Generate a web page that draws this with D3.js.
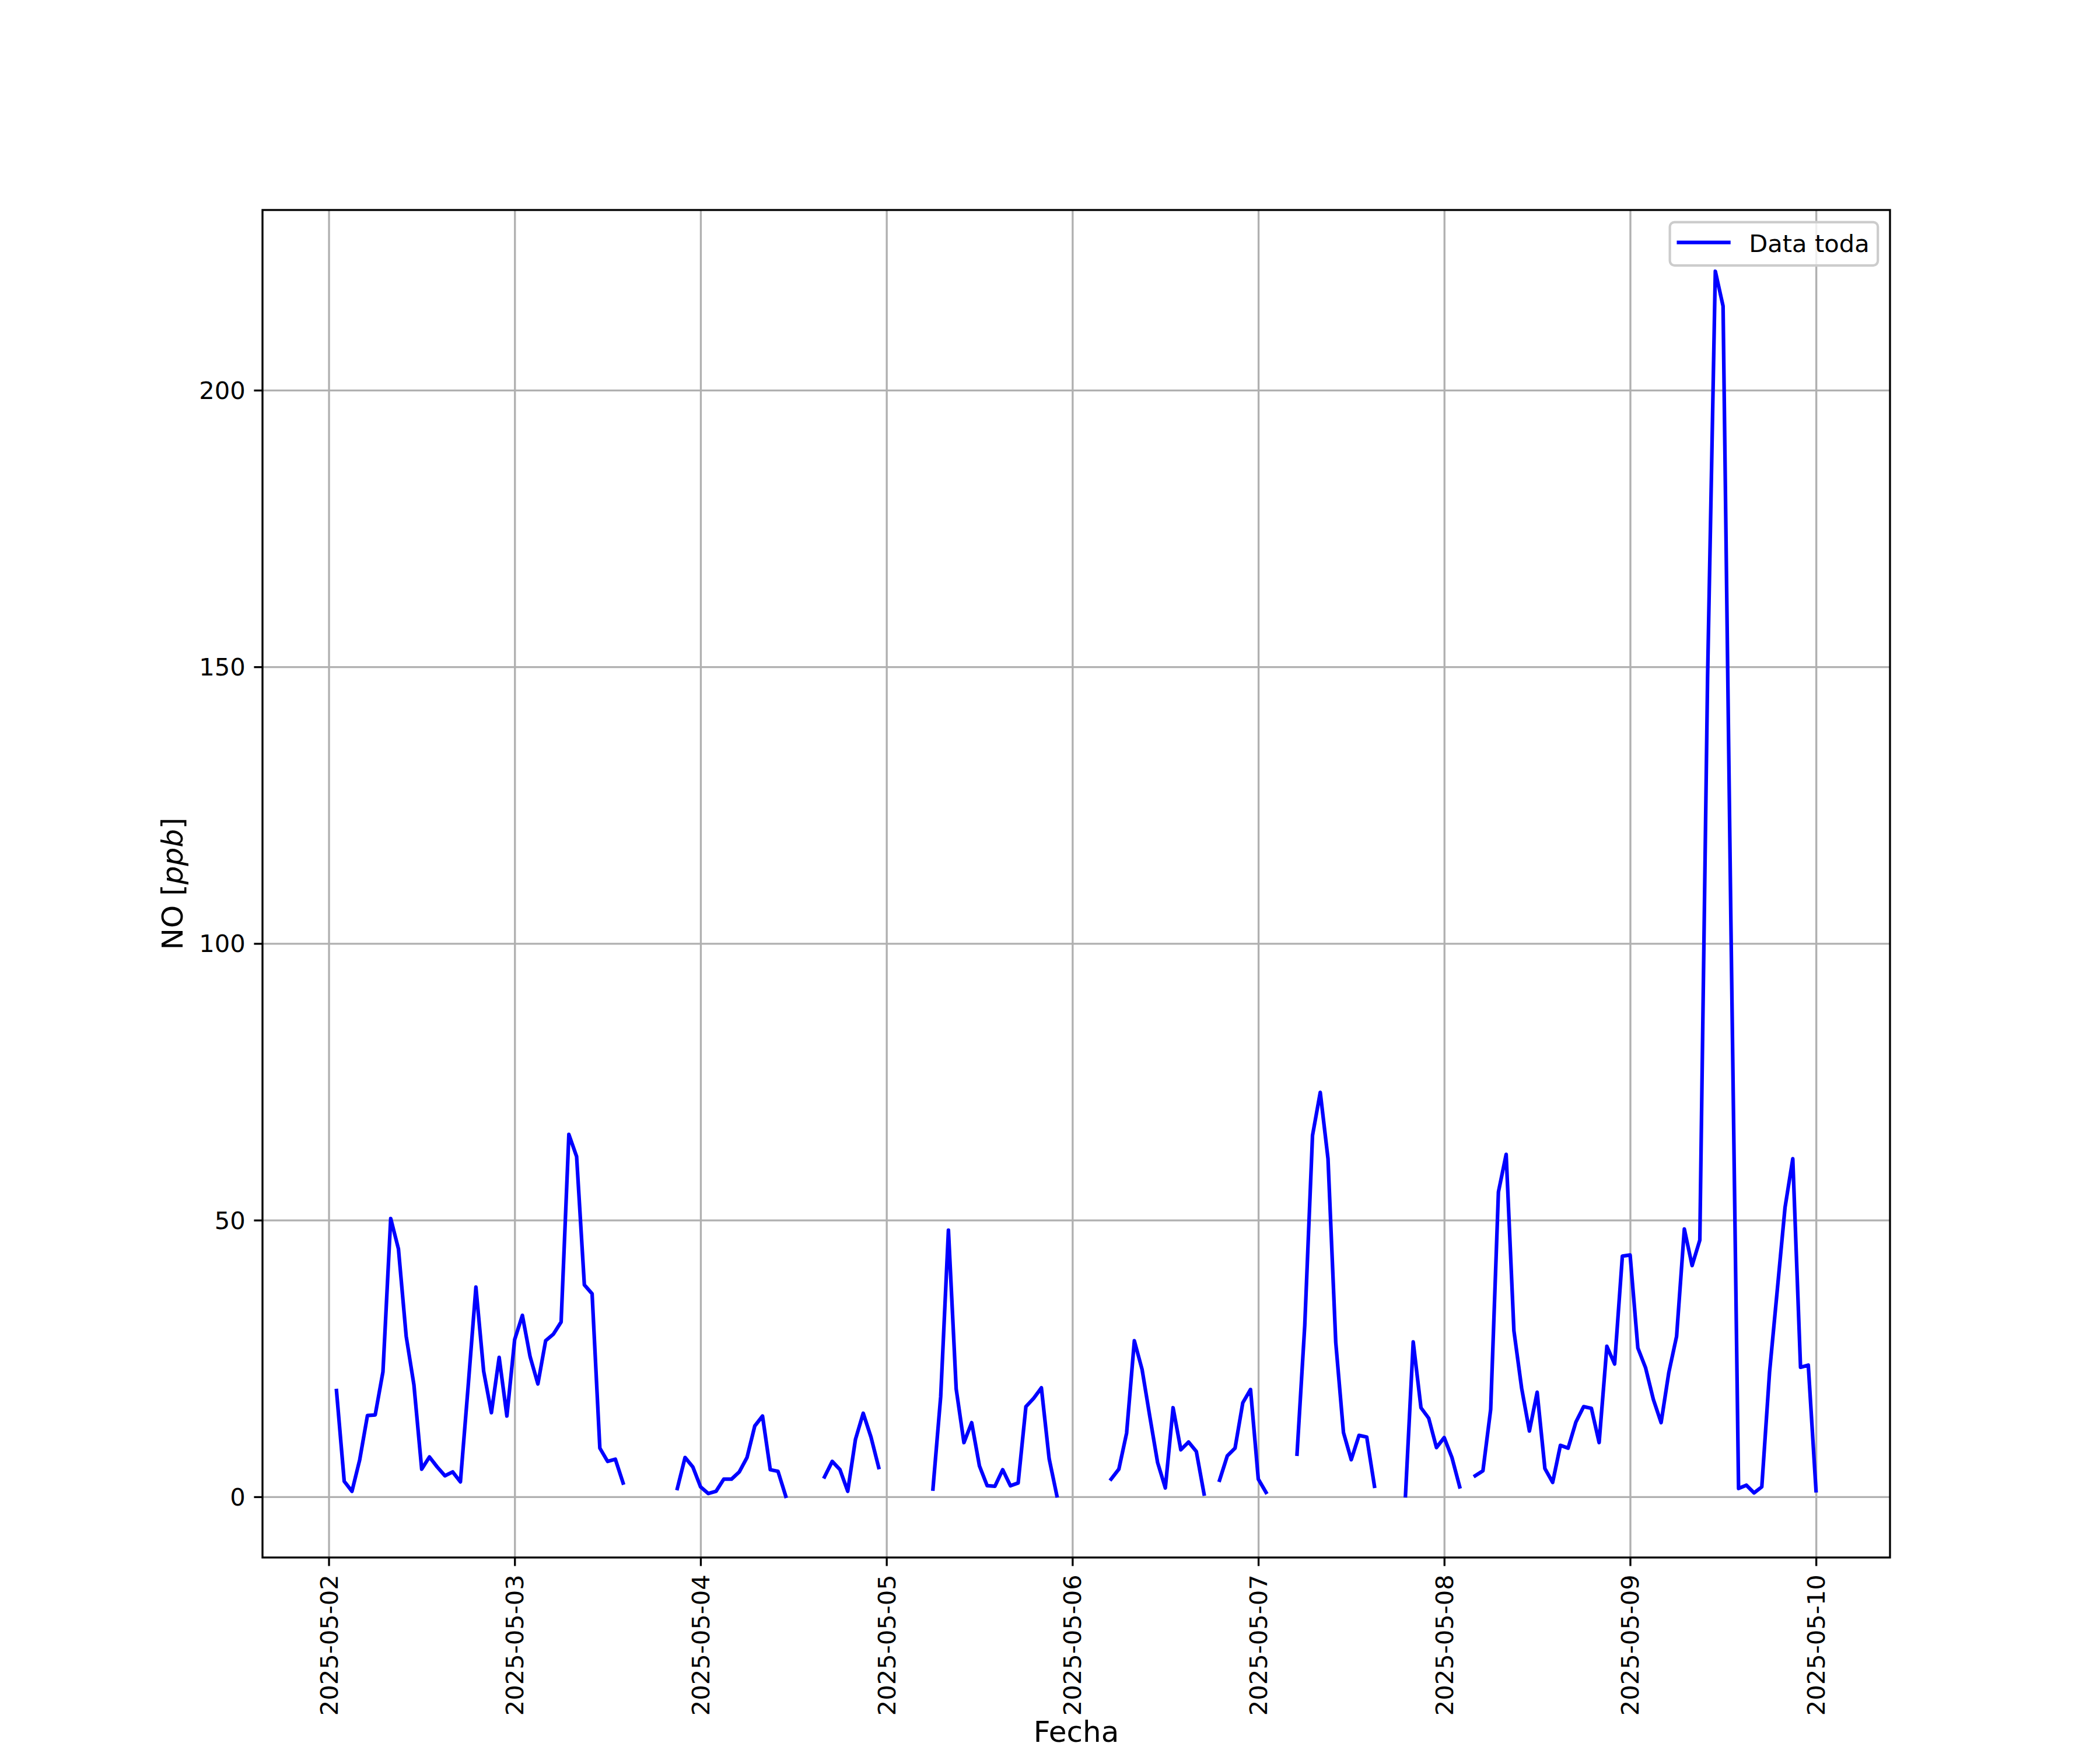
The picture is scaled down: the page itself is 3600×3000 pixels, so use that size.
<!DOCTYPE html>
<html>
<head>
<meta charset="utf-8">
<script src="https://cdn.jsdelivr.net/npm/d3@7"></script>
<style>
  html, body { margin: 0; padding: 0; background: #ffffff; }
  svg { display: block; }
</style>
</head>
<body>
<svg id="chart" width="3600" height="3000"></svg>
<script>
// ---------------- data ----------------
const seriesName = "Data toda";
const startTime = "2025-05-02T01:00:00Z"; // first hourly sample
// hourly NO values [ppb]; null = missing hour
const noValues = [
  19.2, 2.8, 1.0, 6.7, 14.7, 14.8, 22.6, 50.3, 44.8, 29.0, 20.2, 5.0,
  7.2, 5.4, 3.8, 4.5, 2.7, 20.0, 37.9, 22.7, 15.2, 25.2, 14.6, 28.4,
  32.8, 25.3, 20.4, 28.2, 29.4, 31.6, 65.5, 61.5, 38.3, 36.7, 8.8, 6.4,
  6.8, 2.5, null, null, null, null, null, null, 1.5, 7.1, 5.4, 1.8,
  0.6, 1.0, 3.2, 3.2, 4.5, 7.1, 12.8, 14.6, 4.9, 4.6, 0.1, null,
  null, null, null, 3.6, 6.4, 4.9, 1.0, 10.4, 15.1, 10.8, 5.3, null,
  null, null, null, null, null, 1.4, 18.1, 48.2, 19.5, 9.8, 13.4, 5.6,
  2.0, 1.9, 4.9, 2.0, 2.5, 16.3, 17.8, 19.7, 6.9, 0.2, null, null,
  null, null, null, null, 3.2, 5.0, 11.5, 28.2, 23.0, 14.5, 6.2, 1.6,
  16.1, 8.5, 9.9, 8.2, 0.5, null, 3.0, 7.4, 8.8, 17.0, 19.4, 3.2,
  0.8, null, null, null, 7.7, 31.0, 65.3, 73.1, 61.1, 27.9, 11.6, 6.7,
  11.1, 10.8, 1.9, null, null, null, 0.2, 28.0, 16.1, 14.2, 8.9, 10.7,
  7.1, 1.8, null, 3.8, 4.7, 15.8, 55.1, 61.9, 30.0, 19.6, 11.9, 18.9,
  5.1, 2.6, 9.3, 8.8, 13.5, 16.3, 16.0, 9.8, 27.2, 24.0, 43.5, 43.7,
  26.9, 23.3, 17.6, 13.4, 22.5, 29.0, 48.4, 41.8, 46.4, 148.0, 221.5, 215.2,
  105.0, 1.5, 2.1, 0.7, 1.8, 22.5, 37.4, 52.3, 61.1, 23.4, 23.8, 1.1
];
const xTickLabels = ["2025-05-02","2025-05-03","2025-05-04","2025-05-05","2025-05-06",
                     "2025-05-07","2025-05-08","2025-05-09","2025-05-10"];
const yTickValues = [0, 50, 100, 150, 200];
const xAxisTitle = "Fecha";
const yAxisTitleMain = "NO [";
const yAxisTitleItalic = "ppb";
const yAxisTitleEnd = "]";

// ---------------- layout ----------------
const W = 3600, H = 3000;
const L = 450, R = 3240, T = 360, B = 2670;
const PT = 300 / 72; // px per point
const FONT = "DejaVu Sans, Liberation Sans, sans-serif";

const t0 = new Date(startTime).getTime();
const data = noValues.map((v, i) => ({ t: new Date(t0 + i * 3600e3), v }));

const tMin = data[0].t.getTime(), tMax = data[data.length - 1].t.getTime();
const tPad = (tMax - tMin) * 0.05;
const valid = noValues.filter(v => v != null);
const vMin = d3.min(valid), vMax = d3.max(valid);
const vPad = (vMax - vMin) * 0.05;

const x = d3.scaleUtc().domain([new Date(tMin - tPad), new Date(tMax + tPad)]).range([L, R]);
const y = d3.scaleLinear().domain([vMin - vPad, vMax + vPad]).range([B, T]);

const xTicks = xTickLabels.map(s => new Date(s + "T00:00:00Z"));

const svg = d3.select("#chart");
svg.append("rect").attr("width", W).attr("height", H).attr("fill", "#ffffff");

svg.append("defs").append("clipPath").attr("id", "clip")
  .append("rect").attr("x", L).attr("y", T).attr("width", R - L).attr("height", B - T);

// grid
const gridW = 0.8 * PT;
const gx = svg.append("g").attr("transform", `translate(0,${B})`)
  .call(d3.axisBottom(x).tickValues(xTicks).tickSize(-(B - T)).tickFormat(""));
gx.select(".domain").remove();
gx.selectAll("line").attr("stroke", "#b0b0b0").attr("stroke-width", gridW);
const gy = svg.append("g").attr("transform", `translate(${L},0)`)
  .call(d3.axisLeft(y).tickValues(yTickValues).tickSize(-(R - L)).tickFormat(""));
gy.select(".domain").remove();
gy.selectAll("line").attr("stroke", "#b0b0b0").attr("stroke-width", gridW);

// line
const line = d3.line()
  .defined(d => d.v != null)
  .x(d => x(d.t))
  .y(d => y(d.v));
svg.append("path")
  .datum(data)
  .attr("clip-path", "url(#clip)")
  .attr("d", line)
  .attr("fill", "none")
  .attr("stroke", "#0000ff")
  .attr("stroke-width", 1.5 * PT)
  .attr("stroke-linejoin", "round")
  .attr("stroke-linecap", "square");

// axes
const tickLen = 3.5 * PT, tickPad = 3.5 * PT, tickFont = 10 * PT;
const ax = svg.append("g").attr("transform", `translate(0,${B})`)
  .call(d3.axisBottom(x).tickValues(xTicks).tickSize(tickLen).tickPadding(tickPad)
        .tickFormat(d3.utcFormat("%Y-%m-%d")));
ax.select(".domain").remove();
ax.selectAll("line").attr("stroke", "#000").attr("stroke-width", 0.8 * PT);
ax.selectAll("text")
  .attr("font-family", FONT).attr("font-size", tickFont).attr("fill", "#000")
  .attr("y", 0).attr("dy", null)
  .attr("transform", `translate(0,${tickLen + tickPad}) rotate(-90)`)
  .attr("text-anchor", "end")
  .attr("dominant-baseline", "central");

const ay = svg.append("g").attr("transform", `translate(${L},0)`)
  .call(d3.axisLeft(y).tickValues(yTickValues).tickSize(tickLen).tickPadding(tickPad)
        .tickFormat(d3.format("d")));
ay.select(".domain").remove();
ay.selectAll("line").attr("stroke", "#000").attr("stroke-width", 0.8 * PT);
ay.selectAll("text")
  .attr("font-family", FONT).attr("font-size", tickFont).attr("fill", "#000")
  .attr("dy", null).attr("dominant-baseline", "central");

// spines
svg.append("rect").attr("x", L).attr("y", T).attr("width", R - L).attr("height", B - T)
  .attr("fill", "none").attr("stroke", "#000").attr("stroke-width", 0.8 * PT);

// axis titles
const labelFont = 12 * PT;
svg.append("text").attr("x", (L + R) / 2).attr("y", 2986)
  .attr("text-anchor", "middle").attr("font-family", FONT).attr("font-size", labelFont)
  .attr("fill", "#000").text(xAxisTitle);
const yt = svg.append("text")
  .attr("transform", `translate(313,${(T + B) / 2}) rotate(-90)`)
  .attr("text-anchor", "middle").attr("font-family", FONT).attr("font-size", labelFont)
  .attr("fill", "#000");
yt.append("tspan").text(yAxisTitleMain);
yt.append("tspan").attr("font-style", "italic").text(yAxisTitleItalic);
yt.append("tspan").text(yAxisTitleEnd);

// legend
const lgW = 356.6, lgH = 74.3;
const lgX = R - 20.8 - lgW, lgY = T + 20.8;
const lg = svg.append("g");
lg.append("rect").attr("x", lgX).attr("y", lgY).attr("width", lgW).attr("height", lgH)
  .attr("rx", 8).attr("ry", 8)
  .attr("fill", "#ffffff").attr("fill-opacity", 0.8)
  .attr("stroke", "#cccccc").attr("stroke-width", 1.0 * PT);
lg.append("line").attr("x1", lgX + 15).attr("x2", lgX + 101)
  .attr("y1", lgY + 34.9).attr("y2", lgY + 34.9)
  .attr("stroke", "#0000ff").attr("stroke-width", 1.5 * PT)
  .attr("stroke-linecap", "square");
lg.append("text").attr("x", lgX + 135.6).attr("y", lgY + 50.9)
  .attr("font-family", FONT).attr("font-size", tickFont).attr("fill", "#000")
  .text(seriesName);
</script>
</body>
</html>
